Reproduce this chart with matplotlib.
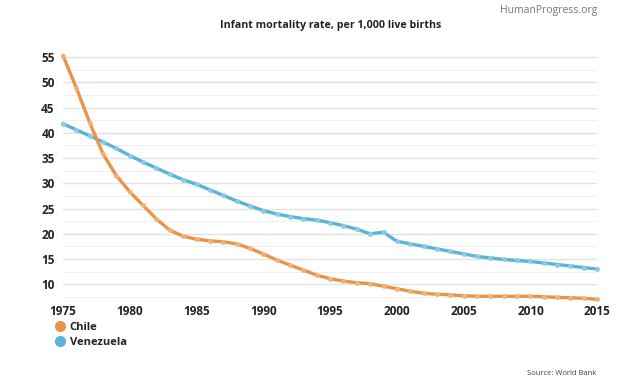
"""
Infant mortality rate, Chile vs Venezuela
"""

import numpy as np
import matplotlib.pyplot as plt
from matplotlib.lines import Line2D
from matplotlib.ticker import MultipleLocator

plt.rcParams['font.family'] = ['Open Sans', 'DejaVu Sans']

years = list(range(1975, 2016))
chile = [55.3, 48.9, 42.0, 35.8, 31.5, 28.3, 25.6, 22.9, 20.7, 19.5,
         18.9, 18.6, 18.4, 18.0, 17.1, 16.0, 14.8, 13.8, 12.8, 11.8,
         11.1, 10.6, 10.3, 10.1, 9.6, 9.1, 8.6, 8.2, 8.0, 7.9,
         7.7, 7.6, 7.6, 7.6, 7.6, 7.6, 7.5, 7.4, 7.3, 7.2, 7.0]
venezuela = [41.8, 40.6, 39.4, 38.2, 36.9, 35.5, 34.2, 33.0, 31.8, 30.7,
             29.8, 28.7, 27.6, 26.5, 25.5, 24.6, 23.9, 23.4, 23.0, 22.7,
             22.2, 21.6, 20.9, 20.0, 20.3, 18.5, 18.0, 17.5, 17.0, 16.5,
             16.0, 15.5, 15.2, 14.9, 14.7, 14.5, 14.2, 13.9, 13.6, 13.3, 13.0]
xticks = [1975, 1980, 1985, 1990, 1995, 2000, 2005, 2010, 2015]
yticks = [10, 15, 20, 25, 30, 35, 40, 45, 50, 55]

c_chile = '#e8954a'
c_ven = '#5ab3d9'
m_chile = '#f0b37c'
m_ven = '#8ccbe6'

fig = plt.figure(figsize=(6.24, 3.86), dpi=100)
ax = fig.add_axes([0.101, 0.218, 0.856, 0.647])

for vals, col, mcol in [(venezuela, c_ven, m_ven), (chile, c_chile, m_chile)]:
    ax.plot(years, vals, color=col, linewidth=2.4, marker='o', markersize=3.5,
            markerfacecolor=mcol, markeredgecolor=mcol, markeredgewidth=0,
            clip_on=False, zorder=3)

ax.set_xlim(1975, 2015)
ax.set_ylim(6.5, 56)
ax.set_xticks(xticks)
ax.set_yticks(yticks)
ax.yaxis.set_minor_locator(MultipleLocator(2.5))
ax.grid(True, which='major', axis='y', color='#e3e3e3', linewidth=1.0)
ax.grid(True, which='minor', axis='y', color='#f0f0f0', linewidth=0.8)
ax.grid(False, axis='x')
ax.tick_params(axis='both', which='both', length=0, labelsize=8.5)
ax.tick_params(axis='x', pad=2)
ax.tick_params(axis='y', pad=6)
for lab in ax.get_xticklabels() + ax.get_yticklabels():
    lab.set_fontweight('bold')
    lab.set_color('#222222')
for s in ax.spines.values():
    s.set_visible(False)

fig.text(0.53, 0.935, 'Infant mortality rate, per 1,000 live births',
         ha='center', va='center', fontsize=7.7, fontweight='bold', color='#222222')
fig.text(0.958, 0.973, 'HumanProgress.org', ha='right', va='center',
         fontsize=7.5, color='#777777')
fig.text(0.955, 0.033, 'Source: World Bank', ha='right', va='center',
         fontsize=5.5, color='#444444')

handles = [Line2D([], [], linestyle='none', marker='o', markersize=7, color=c_chile),
           Line2D([], [], linestyle='none', marker='o', markersize=7, color=c_ven)]
leg = fig.legend(handles, ['Chile', 'Venezuela'], loc='upper left',
                 bbox_to_anchor=(0.078, 0.178), frameon=False, handletextpad=0.3,
                 labelspacing=0.35, borderaxespad=0, handlelength=1.2,
                 prop={'weight': 'bold', 'size': 8})
for t in leg.get_texts():
    t.set_color('#222222')

fig.savefig('out.png', dpi=100)
